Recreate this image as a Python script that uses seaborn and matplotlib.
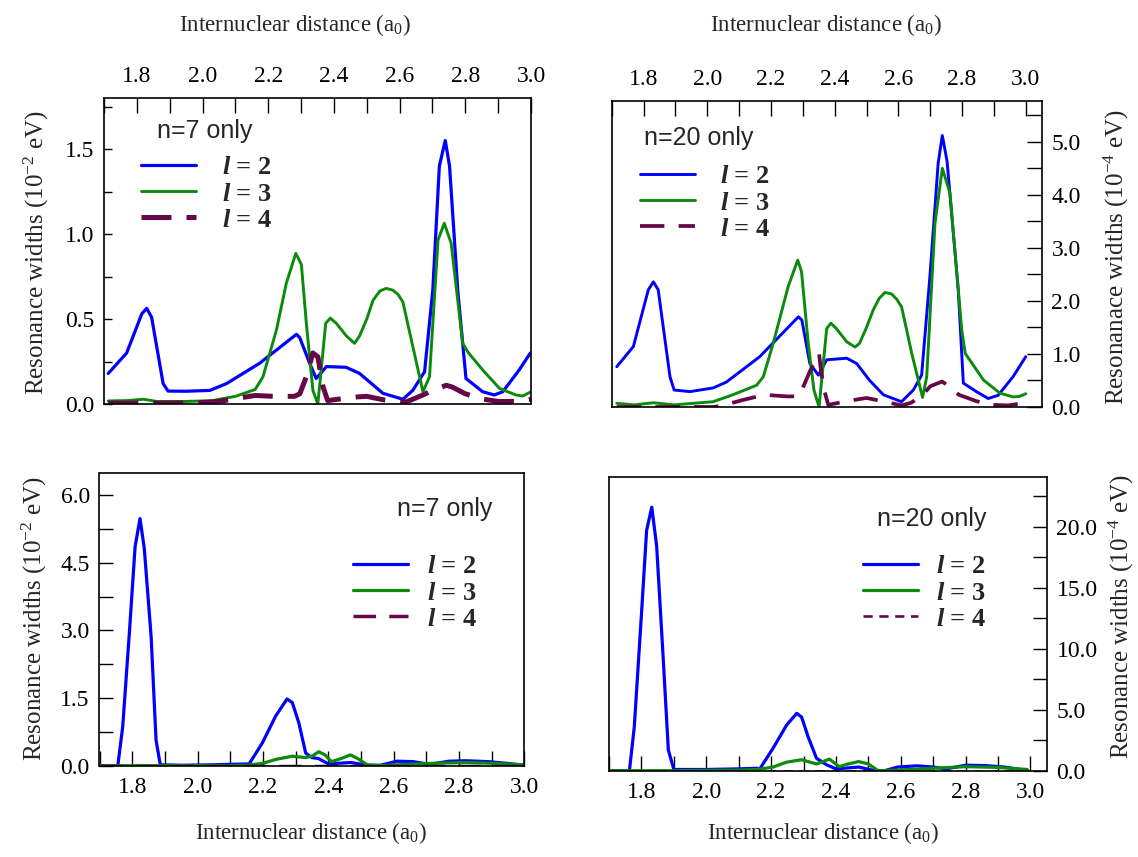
import matplotlib
matplotlib.use("Agg")
import matplotlib.pyplot as plt
from matplotlib.ticker import MultipleLocator, FormatStrFormatter
import seaborn as sns
import pandas as pd

# ---------------- data ----------------
# Panel A: n=7 only (top-left), widths in 1e-2 eV
x_a_l2 = [1.713, 1.769, 1.815, 1.830, 1.845, 1.880, 1.895, 1.95, 2.022, 2.073, 2.174, 2.286, 2.296, 2.326,
          2.346, 2.377, 2.437, 2.478, 2.549, 2.610, 2.640, 2.676, 2.701, 2.721, 2.739, 2.752, 2.777, 2.802,
          2.853, 2.888, 2.914, 2.964, 2.998]
y_a_l2 = [0.18, 0.30, 0.53, 0.563, 0.51, 0.12, 0.076, 0.075, 0.08, 0.12, 0.24, 0.41, 0.39, 0.24,
          0.15, 0.22, 0.216, 0.18, 0.063, 0.028, 0.08, 0.19, 0.67, 1.40, 1.55, 1.40, 0.67, 0.15,
          0.072, 0.053, 0.072, 0.20, 0.30]
x_a_l3 = [1.713, 1.77, 1.82, 1.86, 1.95, 2.03, 2.10, 2.16, 2.184, 2.225, 2.255, 2.284, 2.301, 2.316, 2.336,
          2.351, 2.375, 2.389, 2.407, 2.438, 2.463, 2.478, 2.50, 2.519, 2.540, 2.559, 2.579, 2.595, 2.610,
          2.640, 2.671, 2.691, 2.717, 2.736, 2.757, 2.792, 2.81, 2.853, 2.904, 2.954, 2.975, 3.0]
y_a_l3 = [0.018, 0.02, 0.028, 0.015, 0.015, 0.02, 0.045, 0.085, 0.16, 0.435, 0.71, 0.886, 0.82, 0.475, 0.08,
          0.0, 0.475, 0.505, 0.475, 0.40, 0.357, 0.40, 0.50, 0.61, 0.665, 0.68, 0.67, 0.645, 0.60,
          0.34, 0.072, 0.16, 0.965, 1.063, 0.945, 0.357, 0.30, 0.20, 0.092, 0.053, 0.047, 0.072]
x_a_l4 = [1.713, 1.8, 1.9, 2.0, 2.05, 2.103, 2.16, 2.22, 2.28, 2.296, 2.316, 2.336, 2.351, 2.367, 2.381,
          2.42, 2.458, 2.50, 2.55, 2.62, 2.671, 2.70, 2.742, 2.76, 2.80, 2.85, 2.90, 2.955, 3.0]
y_a_l4 = [0.005, 0.005, 0.005, 0.008, 0.015, 0.033, 0.05, 0.045, 0.045, 0.06, 0.16, 0.30, 0.278, 0.10, 0.02,
          0.03, 0.04, 0.045, 0.025, 0.012, 0.053, 0.08, 0.11, 0.10, 0.06, 0.03, 0.015, 0.015, 0.028]

# Panel B: n=20 only (top-right), widths in 1e-4 eV
x_b_l2 = [1.716, 1.768, 1.815, 1.831, 1.846, 1.883, 1.896, 1.946, 2.019, 2.06, 2.165, 2.286, 2.297, 2.322,
          2.349, 2.375, 2.438, 2.469, 2.51, 2.553, 2.610, 2.647, 2.673, 2.699, 2.725, 2.738, 2.753, 2.788,
          2.804, 2.845, 2.882, 2.913, 2.960, 3.0]
y_b_l2 = [0.76, 1.14, 2.21, 2.36, 2.21, 0.57, 0.32, 0.29, 0.36, 0.47, 0.95, 1.70, 1.64, 0.82,
          0.60, 0.89, 0.92, 0.82, 0.50, 0.23, 0.10, 0.32, 0.60, 2.46, 4.60, 5.12, 4.63, 2.21,
          0.45, 0.29, 0.16, 0.22, 0.57, 0.95]
x_b_l3 = [1.716, 1.77, 1.831, 1.896, 2.019, 2.08, 2.155, 2.176, 2.207, 2.254, 2.284, 2.296, 2.317, 2.335,
          2.351, 2.375, 2.388, 2.405, 2.438, 2.464, 2.478, 2.50, 2.521, 2.540, 2.558, 2.579, 2.595, 2.610,
          2.642, 2.676, 2.689, 2.715, 2.738, 2.762, 2.799, 2.81, 2.867, 2.919, 2.96, 2.98, 3.0]
y_b_l3 = [0.07, 0.04, 0.08, 0.04, 0.10, 0.23, 0.41, 0.57, 1.20, 2.27, 2.77, 2.55, 1.20, 0.32,
          0.0, 1.48, 1.58, 1.48, 1.23, 1.13, 1.20, 1.50, 1.83, 2.05, 2.16, 2.13, 2.03, 1.89,
          1.01, 0.18, 0.57, 3.47, 4.50, 4.03, 1.45, 1.01, 0.51, 0.26, 0.19, 0.20, 0.25]
x_b_l4 = [1.716, 1.8, 1.9, 2.02, 2.05, 2.11, 2.18, 2.25, 2.286, 2.30, 2.322, 2.351, 2.357, 2.367, 2.38,
          2.437, 2.50, 2.55, 2.61, 2.64, 2.677, 2.70, 2.737, 2.76, 2.79, 2.845, 2.895, 2.945, 3.0]
y_b_l4 = [0.0, 0.0, 0.0, 0.0, 0.03, 0.13, 0.23, 0.20, 0.20, 0.36, 0.67, 1.01, 0.69, 0.32, 0.04,
          0.11, 0.17, 0.11, 0.03, 0.08, 0.23, 0.39, 0.48, 0.39, 0.23, 0.11, 0.04, 0.03, 0.08]

# Panel C: n=7 only (bottom-left), widths in 1e-2 eV
x_c_l2 = [1.70, 1.756, 1.771, 1.792, 1.809, 1.824, 1.837, 1.858, 1.873, 1.886, 1.95, 2.05, 2.10, 2.158,
          2.198, 2.239, 2.274, 2.29, 2.31, 2.331, 2.35, 2.37, 2.40, 2.47, 2.52, 2.56, 2.61, 2.66, 2.71,
          2.77, 2.82, 2.89, 2.95, 3.0]
y_c_l2 = [0.0, 0.0, 0.86, 3.01, 4.86, 5.48, 4.82, 2.86, 0.57, 0.02, 0.01, 0.02, 0.03, 0.04,
          0.50, 1.10, 1.48, 1.40, 0.95, 0.28, 0.18, 0.16, 0.04, 0.07, 0.01, 0.01, 0.10, 0.09, 0.03,
          0.10, 0.11, 0.09, 0.05, 0.01]
x_c_l3 = [1.70, 1.9, 2.1, 2.15, 2.198, 2.24, 2.29, 2.33, 2.35, 2.371, 2.39, 2.41, 2.44, 2.468, 2.49,
          2.52, 2.56, 2.61, 2.71, 2.82, 2.92, 3.0]
y_c_l3 = [0.0, 0.0, 0.0, 0.01, 0.05, 0.14, 0.21, 0.18, 0.21, 0.31, 0.24, 0.09, 0.16, 0.24, 0.16,
          0.015, 0.0, 0.02, 0.05, 0.07, 0.05, 0.015]
x_c_l4 = [1.70, 1.9, 2.1, 2.3, 2.5, 2.7, 2.9, 3.0]
y_c_l4 = [0.0, 0.0, 0.0, 0.0, 0.0, 0.0, 0.0, 0.0]

# Panel D: n=20 only (bottom-right), widths in 1e-4 eV
x_d_l2 = [1.70, 1.763, 1.778, 1.801, 1.816, 1.832, 1.847, 1.867, 1.883, 1.90, 2.0, 2.1, 2.156, 2.164,
          2.206, 2.248, 2.279, 2.294, 2.314, 2.34, 2.37, 2.40, 2.47, 2.52, 2.55, 2.59, 2.65, 2.70, 2.74,
          2.80, 2.86, 2.92, 2.99]
y_d_l2 = [0.0, 0.0, 3.6, 13.2, 19.7, 21.6, 18.4, 9.3, 1.7, 0.1, 0.1, 0.15, 0.2, 0.1,
          1.84, 3.75, 4.70, 4.40, 2.79, 1.02, 0.50, 0.15, 0.30, 0.0, 0.0, 0.30, 0.40, 0.30, 0.15,
          0.45, 0.42, 0.30, 0.0]
x_d_l3 = [1.70, 1.9, 2.1, 2.16, 2.206, 2.248, 2.294, 2.34, 2.38, 2.41, 2.43, 2.47, 2.50, 2.53, 2.59,
          2.70, 2.80, 2.90, 2.99]
y_d_l3 = [0.0, 0.0, 0.05, 0.1, 0.3, 0.7, 0.9, 0.55, 0.95, 0.33, 0.5, 0.75, 0.55, 0.0, 0.05,
          0.2, 0.33, 0.27, 0.1]
x_d_l4 = [1.70, 1.9, 2.1, 2.3, 2.5, 2.7, 2.9, 3.0]
y_d_l4 = [0.0, 0.0, 0.0, 0.0, 0.0, 0.0, 0.0, 0.0]

series_labels = [r"$l$ = 2", r"$l$ = 3", r"$l$ = 4"]
panel_titles = ["n=7 only", "n=20 only", "n=7 only", "n=20 only"]
xlabel_text = r"Internuclear distance (a$_0$)"
ylabel_texts = [r"Resonance widths (10$^{-2}$ eV)", r"Resonanace widths (10$^{-4}$ eV)",
                r"Resonance widths (10$^{-2}$ eV)", r"Resonance widths (10$^{-4}$ eV)"]

# ---------------- style ----------------
sns.set_theme(style="white")
plt.rcParams["font.family"] = ["Liberation Serif", "DejaVu Serif"]
plt.rcParams["mathtext.fontset"] = "custom"
plt.rcParams["mathtext.rm"] = "Liberation Serif"
plt.rcParams["mathtext.it"] = "Liberation Serif:italic:bold"
plt.rcParams["mathtext.bf"] = "Liberation Serif:bold"
plt.rcParams["axes.linewidth"] = 1.2
plt.rcParams["axes.edgecolor"] = "black"

BLUE = "#0000ff"
GREEN = "#0b8a0b"
MAROON = "#670748"

W, H = 1138, 857
fig = plt.figure(figsize=(W / 100, H / 100), dpi=100)


def box(l, t, r, b):
    return [l / W, 1 - b / H, (r - l) / W, (b - t) / H]


def fx(px):
    return px / W


def fy(py):
    return 1 - py / H


panels = [
    dict(rect=box(104, 98, 531, 404), xlim=(1.70, 3.0), ylim=(0, 1.8), ymaj=0.5, ymin=0.25,
         xtop=True, yright=False, ytick_len=8,
         data=[(x_a_l2, y_a_l2), (x_a_l3, y_a_l3), (x_a_l4, y_a_l4)],
         lws=[2.3, 2.1, 3.6], l4dash=(0, (6, 3)),
         title_xy=(157, 138), leg_xy=(141, 156), leg_pad=1.0,
         xlab_xy=(295, 25), ylab_xy=(36, 253)),
    dict(rect=box(611.7, 101, 1041.7, 407), xlim=(1.70, 3.05), ylim=(0, 5.77), ymaj=1.0, ymin=0.5,
         xtop=True, yright=True, ytick_len=14,
         data=[(x_b_l2, y_b_l2), (x_b_l3, y_b_l3), (x_b_l4, y_b_l4)],
         lws=[2.1, 2.1, 2.7], l4dash=(0, (6.5, 3.8)),
         title_xy=(643.5, 145), leg_xy=(640, 165), leg_pad=0.97,
         xlab_xy=(826, 25), ylab_xy=(1116, 257)),
    dict(rect=box(99.5, 473, 524.3, 765.7), xlim=(1.70, 3.0), ylim=(0, 6.49), ymaj=1.5, ymin=0.75,
         xtop=False, yright=False, ytick_len=13,
         data=[(x_c_l2, y_c_l2), (x_c_l3, y_c_l3), (x_c_l4, y_c_l4)],
         lws=[2.3, 2.3, 2.5], l4dash=(0, (6.5, 3.8)),
         title_xy=(396.7, 516), leg_xy=(353, 555), leg_pad=0.72,
         xlab_xy=(311, 833), ylab_xy=(34, 619)),
    dict(rect=box(609, 477.3, 1046.7, 770.7), xlim=(1.70, 3.05), ylim=(0, 24.05), ymaj=5.0, ymin=2.5,
         xtop=False, yright=True, ytick_len=13,
         data=[(x_d_l2, y_d_l2), (x_d_l3, y_d_l3), (x_d_l4, y_d_l4)],
         lws=[2.3, 2.3, 1.9], l4dash=(0, (3.5, 2.5)),
         title_xy=(876.7, 526), leg_xy=(863, 555), leg_pad=0.68,
         xlab_xy=(823, 833), ylab_xy=(1121, 617)),
]

for i, p in enumerate(panels):
    ax = fig.add_axes(p["rect"])
    colors = [BLUE, GREEN, MAROON]
    styles = ["-", "-", p["l4dash"]]
    for (xs, ys), c, ls, lw, lab in zip(p["data"], colors, styles, p["lws"], series_labels):
        df = pd.DataFrame({"x": xs, "y": ys})
        sns.lineplot(data=df, x="x", y="y", ax=ax, color=c, linestyle=ls, linewidth=lw,
                     label=lab, legend=False, estimator=None, sort=False)
    ax.set_xlim(*p["xlim"])
    ax.set_ylim(*p["ylim"])

    ax.xaxis.set_major_locator(MultipleLocator(0.2))
    ax.xaxis.set_minor_locator(MultipleLocator(0.1))
    ax.yaxis.set_major_locator(MultipleLocator(p["ymaj"]))
    ax.yaxis.set_minor_locator(MultipleLocator(p["ymin"]))
    ax.xaxis.set_major_formatter(FormatStrFormatter("%.1f"))
    ax.yaxis.set_major_formatter(FormatStrFormatter("%.1f"))

    if p["xtop"]:
        ax.xaxis.tick_top()
        ax.xaxis.set_label_position("top")
    else:
        ax.xaxis.tick_bottom()
    if p["yright"]:
        ax.yaxis.tick_right()
        ax.yaxis.set_label_position("right")
    else:
        ax.yaxis.tick_left()
    ax.tick_params(axis="x", which="both", direction="in", length=10.5, width=1.0,
                   labelsize=17, pad=8, colors="black")
    ax.tick_params(axis="y", which="both", direction="in", length=p["ytick_len"] * 0.75, width=1.0,
                   labelsize=17, pad=7, colors="black")
    for s in ax.spines.values():
        s.set_visible(True)
        s.set_color("black")
        s.set_linewidth(1.2)

    ax.set_xlabel(xlabel_text, fontsize=16.5)
    ax.xaxis.set_label_coords(fx(p["xlab_xy"][0]), fy(p["xlab_xy"][1]), transform=fig.transFigure)
    ax.xaxis.label.set_va("center")
    ax.set_ylabel(ylabel_texts[i], fontsize=18)
    ax.yaxis.set_label_coords(fx(p["ylab_xy"][0]), fy(p["ylab_xy"][1]), transform=fig.transFigure)
    ax.yaxis.label.set_va("center")
    ax.yaxis.label.set_rotation(90)

    ax.text(fx(p["title_xy"][0]), fy(p["title_xy"][1]), panel_titles[i], transform=fig.transFigure,
            family="Liberation Sans", fontsize=18, ha="left", va="baseline")

    handles = ax.get_lines()[:3]
    ax.legend(handles, series_labels, loc="upper left",
              bbox_to_anchor=(fx(p["leg_xy"][0]), fy(p["leg_xy"][1])), bbox_transform=fig.transFigure,
              frameon=False, borderpad=0, borderaxespad=0, handlelength=2.08,
              handletextpad=p["leg_pad"], labelspacing=0.1,
              prop={"family": "Liberation Serif", "weight": "bold", "size": 19})

fig.savefig("out.png", dpi=100)
